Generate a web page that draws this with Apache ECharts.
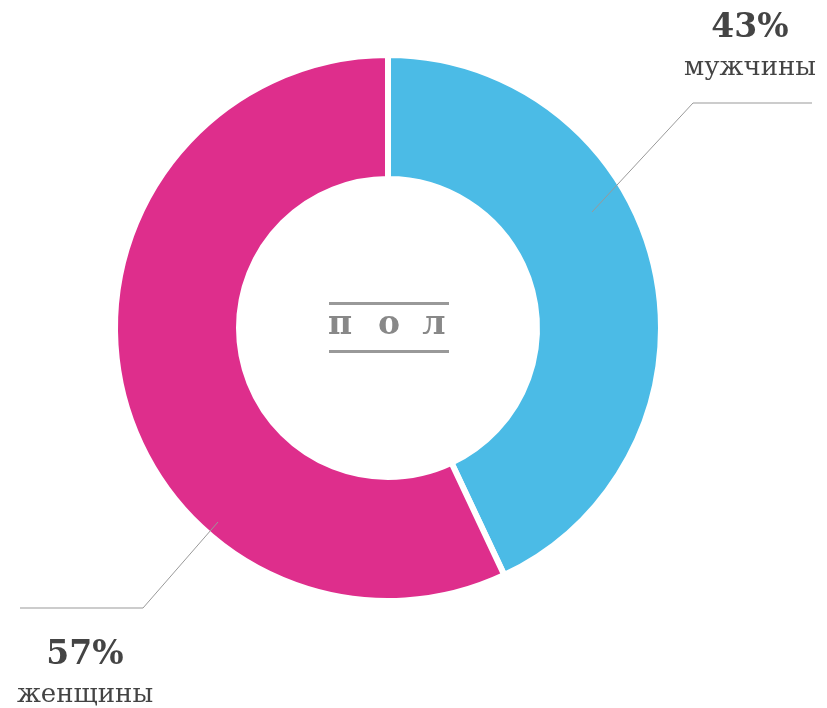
<!DOCTYPE html>
<html>
<head>
<meta charset="utf-8">
<script src="https://cdn.jsdelivr.net/npm/echarts@6/dist/echarts.min.js"></script>
<style>
  html, body { margin: 0; padding: 0; background: #fff; }
  #chart { width: 827px; height: 708px; }
</style>
</head>
<body>
<div id="chart"></div>
<script>
const categories = ['мужчины', 'женщины']
const values = [43, 57]
const colors = ['#4bbbe6', '#de2e8c']
const centerTitle = ['п', 'о', 'л']

const fontFamily = '"DejaVu Serif", serif'

// where each label sits and how its leader line runs
const labelSpots = [
  { x: 750, y: 48, line: [[592, 212], [693, 103], [812, 103]] },
  { x: 85, y: 675, line: [[218, 522], [143, 608], [20, 608]] }
]
const titleX = [340, 389, 434]

const chart = echarts.init(document.getElementById('chart'))

// leader lines go over the ring, so they live in the graphic layer on top
const leaders = labelSpots.map((s) => ({
  type: 'polyline',
  z: 100,
  shape: { points: s.line },
  style: { stroke: '#999', lineWidth: 1, fill: null }
}))

chart.setOption({
  animation: false,
  graphic: [
    {
      type: 'rect',
      shape: { x: 329, y: 302, width: 120, height: 3 },
      style: { fill: '#999' }
    },
    {
      type: 'rect',
      shape: { x: 329, y: 350, width: 120, height: 3 },
      style: { fill: '#999' }
    }
  ].concat(centerTitle.map((ch, i) => ({
    type: 'text',
    x: titleX[i],
    y: 325,
    style: {
      text: ch,
      fill: '#888',
      font: 'bold 33px ' + fontFamily,
      align: 'center',
      verticalAlign: 'middle'
    }
  }))).concat(leaders),
  series: [
    {
      type: 'pie',
      center: [388, 328],
      radius: [149, 273],
      startAngle: 90,
      itemStyle: { borderColor: '#fff', borderWidth: 6 },
      label: {
        show: true,
        position: 'outside',
        overflow: 'none',
        formatter: (p) => '{v|' + p.value + '%}\n{n|' + p.name + '}',
        rich: {
          v: { fontFamily, fontWeight: 'bold', fontSize: 33, color: '#444', lineHeight: 40, align: 'center' },
          n: { fontFamily, fontSize: 26, color: '#444', lineHeight: 40, align: 'center' }
        }
      },
      labelLine: { show: false },
      labelLayout: (params) => {
        const s = labelSpots[params.dataIndex]
        return {
          x: s.x,
          y: s.y,
          align: 'center',
          verticalAlign: 'middle'
        }
      },
      data: categories.map((name, i) => ({
        name,
        value: values[i],
        itemStyle: { color: colors[i] }
      }))
    }
  ]
})
</script>
</body>
</html>
